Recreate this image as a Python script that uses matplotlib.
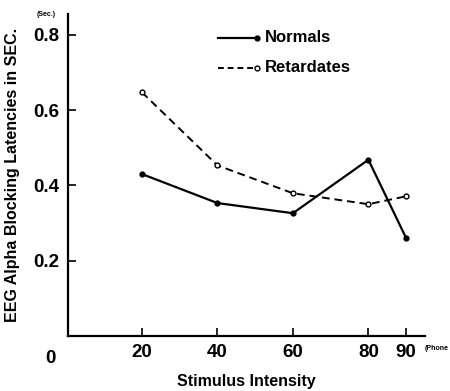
import matplotlib
matplotlib.use("Agg")
import matplotlib.pyplot as plt

intensity = [20, 40, 60, 80, 90]
normals = [0.43, 0.353, 0.326, 0.468, 0.26]
retardates = [0.647, 0.453, 0.379, 0.35, 0.371]
xticks = [20, 40, 60, 80, 90]
yticks = [0.2, 0.4, 0.6, 0.8]
ytick_labels = ["0.2", "0.4", "0.6", "0.8"]
series_names = ["Normals", "Retardates"]

plt.rcParams['font.family'] = ['Liberation Sans', 'DejaVu Sans']
plt.rcParams['font.weight'] = 'bold'

fig = plt.figure(figsize=(4.5, 3.91), dpi=100)
ax = fig.add_axes([68/450, 55/391, 357/450, 322/391])

ax.plot(intensity, normals, '-', color='black', lw=1.6, marker='o', ms=3.5,
        mfc='black', mec='black')
ax.plot(intensity, retardates, '--', color='black', lw=1.4, dashes=(4, 2.5),
        marker='o', ms=3.5, mfc='white', mec='black', mew=1.0)

ax.set_xlim(0.4, 95)
ax.set_ylim(0, 0.855)
ax.spines['top'].set_visible(False)
ax.spines['right'].set_visible(False)
ax.spines['left'].set_linewidth(1.6)
ax.spines['bottom'].set_linewidth(1.6)
ax.set_xticks(xticks)
ax.set_xticklabels([str(v) for v in xticks], fontsize=13.5, fontweight='bold')
ax.set_yticks(yticks)
ax.set_yticklabels(ytick_labels, fontsize=13.5, fontweight='bold')
ax.tick_params(direction='in', length=6, width=1.2, pad=6)

ax.text(-0.05, -0.045, "0", transform=ax.transAxes, fontsize=13.5,
        fontweight='bold', ha='center', va='top')
ax.text(-0.035, 1.0, "(Sec.)", transform=ax.transAxes, fontsize=5,
        fontweight='bold', ha='right', va='center')
ax.text(1.0, -0.04, "(Phone", transform=ax.transAxes, fontsize=5,
        fontweight='bold', ha='left', va='center')

ax.set_xlabel("Stimulus Intensity", fontsize=11.5, fontweight='bold', labelpad=9)
ax.set_ylabel("EEG Alpha Blocking Latencies in SEC.", fontsize=11.5,
              fontweight='bold', labelpad=10)

# manual legend (line with marker at its right end)
def px2ax(x, y):
    return ((x - 68) / 357, (336 - y) / 322)

for name, ypix, style in [(series_names[0], 38, 'solid'), (series_names[1], 68, 'dashed')]:
    x0, yy = px2ax(218, ypix)
    x1, _ = px2ax(257, ypix)
    if style == 'solid':
        ax.plot([x0, x1], [yy, yy], '-', color='black', lw=1.6, transform=ax.transAxes,
                clip_on=False)
        ax.plot([x1], [yy], 'o', ms=3.5, color='black', transform=ax.transAxes,
                clip_on=False)
    else:
        ax.plot([x0, x1], [yy, yy], '--', color='black', lw=1.4, dashes=(3, 2),
                transform=ax.transAxes, clip_on=False)
        ax.plot([x1], [yy], 'o', ms=3.5, mfc='white', mec='black', mew=1.0,
                transform=ax.transAxes, clip_on=False)
    tx, _ = px2ax(265, ypix)
    ax.text(tx, yy, name, transform=ax.transAxes, fontsize=12, fontweight='bold',
            ha='left', va='center')

fig.savefig("out.png", dpi=100)
